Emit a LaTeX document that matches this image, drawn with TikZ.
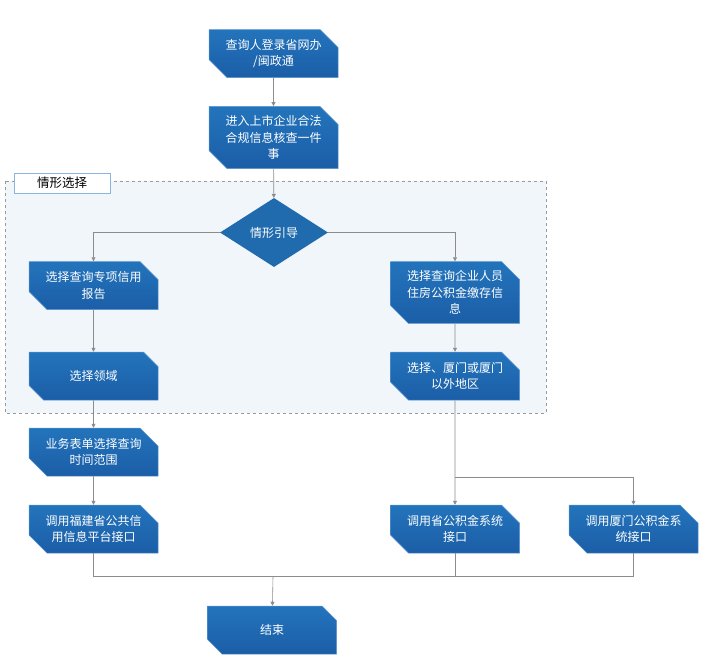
\documentclass[tikz,border=0pt]{standalone}
\usepackage{fontspec}
\setmainfont{Noto Sans CJK SC}
\usetikzlibrary{shapes.misc,shapes.geometric,arrows.meta}
\definecolor{boxtop}{HTML}{2374BC}
\definecolor{boxbot}{HTML}{1B5EA7}
\definecolor{boxedge}{HTML}{5A95D2}
\definecolor{linegray}{HTML}{8C8C8C}
\definecolor{grpfill}{HTML}{F1F6FB}
\tikzset{
    BX1/.style ={chamfered rectangle, chamfered rectangle corners={north east,south west},
        chamfered rectangle xsep=9pt, chamfered rectangle ysep=9pt,
        minimum width = 129pt, minimum height = 48pt, inner sep=0pt,
        top color=boxtop, bottom color=boxbot, draw=boxedge, line width=0.5pt,
        text=white, align=center, font=\fontsize{12}{16.5}\selectfont},
    DM1/.style ={diamond, minimum width = 108pt, minimum height = 69pt, inner sep=0pt,
        fill=boxtop!92!black, text=white, font=\fontsize{12}{16.5}\selectfont},
    AR1/.style ={draw=linegray, line width=0.6pt, -{Triangle[width=4pt,length=4pt]}},
    LN1/.style ={draw=linegray, line width=0.6pt}
}

\begin{document}
\begin{tikzpicture}[x=1pt,y=-1pt]
        \useasboundingbox (0,0) rectangle (708,665);
        \draw[dashed, draw=gray!80, fill=grpfill, line width=0.5pt] (5,181) rectangle (546,413);
        \node[draw=boxedge!70, fill=white, minimum width=96pt, minimum height=20pt, inner sep=0pt,
            font=\fontsize{12.5}{14}\selectfont] (tab) at (62,183) {情形选择};
        \node[BX1] (login) at (273.5,53.5) {查询人登录省网办\\/闽政通};
        \node[BX1, minimum height=61pt] (entry) at (273.5,137.5) {进入上市企业合法\\合规信息核查一件\\事};
        \node[DM1] (guide) at (274,232.5) {情形引导};
        \node[BX1] (credit) at (93.5,285.5) {选择查询专项信用\\报告};
        \node[BX1] (field) at (93.5,376) {选择领域};
        \node[BX1] (range) at (93.5,452) {业务表单选择查询\\时间范围};
        \node[BX1] (fjapi) at (93.5,529) {调用福建省公共信\\用信息平台接口};
        \node[BX1, minimum height=61pt] (fund) at (455,292.5) {选择查询企业人员\\住房公积金缴存信\\息};
        \node[BX1] (area) at (455,376) {选择、厦门或厦门\\以外地区};
        \node[BX1] (prov) at (455,529) {调用省公积金系统\\接口};
        \node[BX1] (xmapi) at (633.5,529) {调用厦门公积金系\\统接口};
        \node[BX1] (done) at (272,630) {结束};
        \coordinate (split) at (455,477);
        \coordinate (merge) at (273,576);
        \draw[AR1] (login) -- (entry);
        \draw[AR1] (entry) -- (guide);
        \draw[AR1] (guide.west) -| (credit.north);
        \draw[AR1] (guide.east) -| (fund.north);
        \draw[AR1] (credit) -- (field);
        \draw[AR1] (field) -- (range);
        \draw[AR1] (range) -- (fjapi);
        \draw[AR1] (fund) -- (area);
        \draw[AR1] (area) -- (prov);
        \draw[AR1] (split) -| (xmapi.north);
        \draw[LN1] (fjapi.south) |- (merge) -| (xmapi.south);
        \draw[LN1] (prov.south) -- (prov.south |- merge);
        \draw[AR1] (merge) -- (done);
    \end{tikzpicture}
\end{document}
